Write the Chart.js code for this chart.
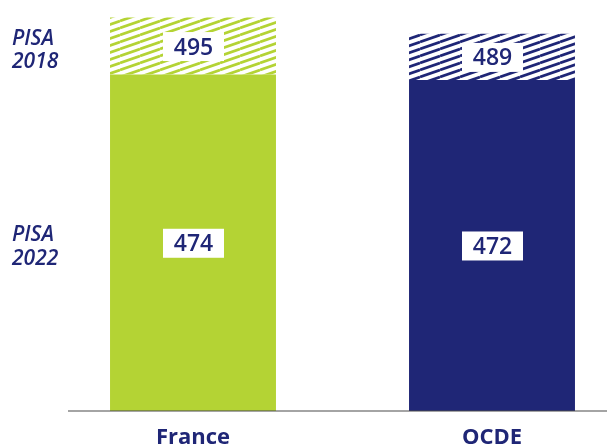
<!DOCTYPE html>
<html>
<head>
<meta charset="utf-8">
<script src="https://cdn.jsdelivr.net/npm/chart.js@4.4.1/dist/chart.umd.min.js"></script>
<style>
  html, body { margin: 0; padding: 0; background: #fff; overflow: hidden; }
  #wrap { width: 643px; height: 445px; }
</style>
</head>
<body>
<div id="wrap"><canvas id="myChart"></canvas></div>
<script>
// données
const categories = ['France', 'OCDE'];
const scores2022 = [474, 472];
const scores2018 = [495, 489];
const seasons = ['2022', '2018'];

const GREEN = '#b4d334';
const NAVY = '#1f2676';

// motif hachuré pour PISA 2018
function hatch(color) {
    const c = document.createElement('canvas');
    c.width = 20;
    c.height = 7;
    const g = c.getContext('2d');
    g.strokeStyle = color;
    g.lineWidth = 2.7;
    for (let k = -1; k <= 1; k++) {
        g.beginPath();
        g.moveTo(0, 7 + k * 7);
        g.lineTo(20, k * 7);
        g.stroke();
    }
    return g.createPattern(c, 'repeat');
}

const labelsPlugin = {
    id: 'labels',
    afterDatasetsDraw(chart) {
        const ctx = chart.ctx;
        const y = chart.scales.y;
        const base = y.getPixelForValue(y.min);

        // ligne de base
        ctx.save();
        ctx.strokeStyle = '#4a4a4a';
        ctx.lineWidth = 1.2;
        ctx.beginPath();
        ctx.moveTo(68, base);
        ctx.lineTo(chart.width, base);
        ctx.stroke();

        [scores2022, scores2018].forEach((values, di) => {
            const meta = chart.getDatasetMeta(di);
            meta.data.forEach((bar, i) => {
                const bottom = di === 0 ? base : y.getPixelForValue(scores2022[i]);
                const top = y.getPixelForValue(values[i]);
                const cy = (top + bottom) / 2;
                ctx.fillStyle = '#fff';
                ctx.fillRect(bar.x - 30, cy - 14, 61, 29);
                ctx.fillStyle = NAVY;
                ctx.font = '600 23px "Open Sans"';
                ctx.textAlign = 'center';
                ctx.textBaseline = 'alphabetic';
                ctx.fillText(String(values[i]), bar.x + 0.5, cy + 8.5);

                // étiquettes à gauche
                if (i === 0) {
                    ctx.textAlign = 'left';
                    ctx.font = 'italic 600 21px "Open Sans"';
                    ctx.fillText('PISA', 12, cy - 1.5);
                    ctx.fillText(seasons[di], 12, cy + 22);
                }
            });
        });
        ctx.restore();
    }
};

const ctx = document.getElementById('myChart');

new Chart(ctx, {
    type: 'bar',
    data: {
        labels: categories,
        datasets: [
            {
                label: 'PISA ' + seasons[0],
                data: scores2022,
                backgroundColor: [GREEN, NAVY],
                grouped: false,
                barPercentage: 0.555,
                categoryPercentage: 1,
            },
            {
                label: 'PISA ' + seasons[1],
                data: scores2022.map((v, i) => [v, scores2018[i]]),
                backgroundColor: [hatch(GREEN), hatch(NAVY)],
                grouped: false,
                barPercentage: 0.555,
                categoryPercentage: 1,
            },
        ],
    },
    options: {
        responsive: true,
        maintainAspectRatio: false,
        animation: false,
        layout: { padding: { left: 43.5, right: 1.5, top: 4, bottom: 0 } },
        plugins: {
            legend: { display: false },
            tooltip: { enabled: false },
        },
        scales: {
            x: {
                grid: { display: false },
                border: { display: false },
                ticks: {
                    color: NAVY,
                    font: { family: 'Open Sans', size: 22, weight: 'bold' },
                    padding: 6,
                },
                afterFit: (axis) => { axis.height = 34; },
            },
            y: {
                display: false,
                min: 350,
                max: 500,
            },
        },
    },
    plugins: [labelsPlugin],
});
</script>
</body>
</html>
